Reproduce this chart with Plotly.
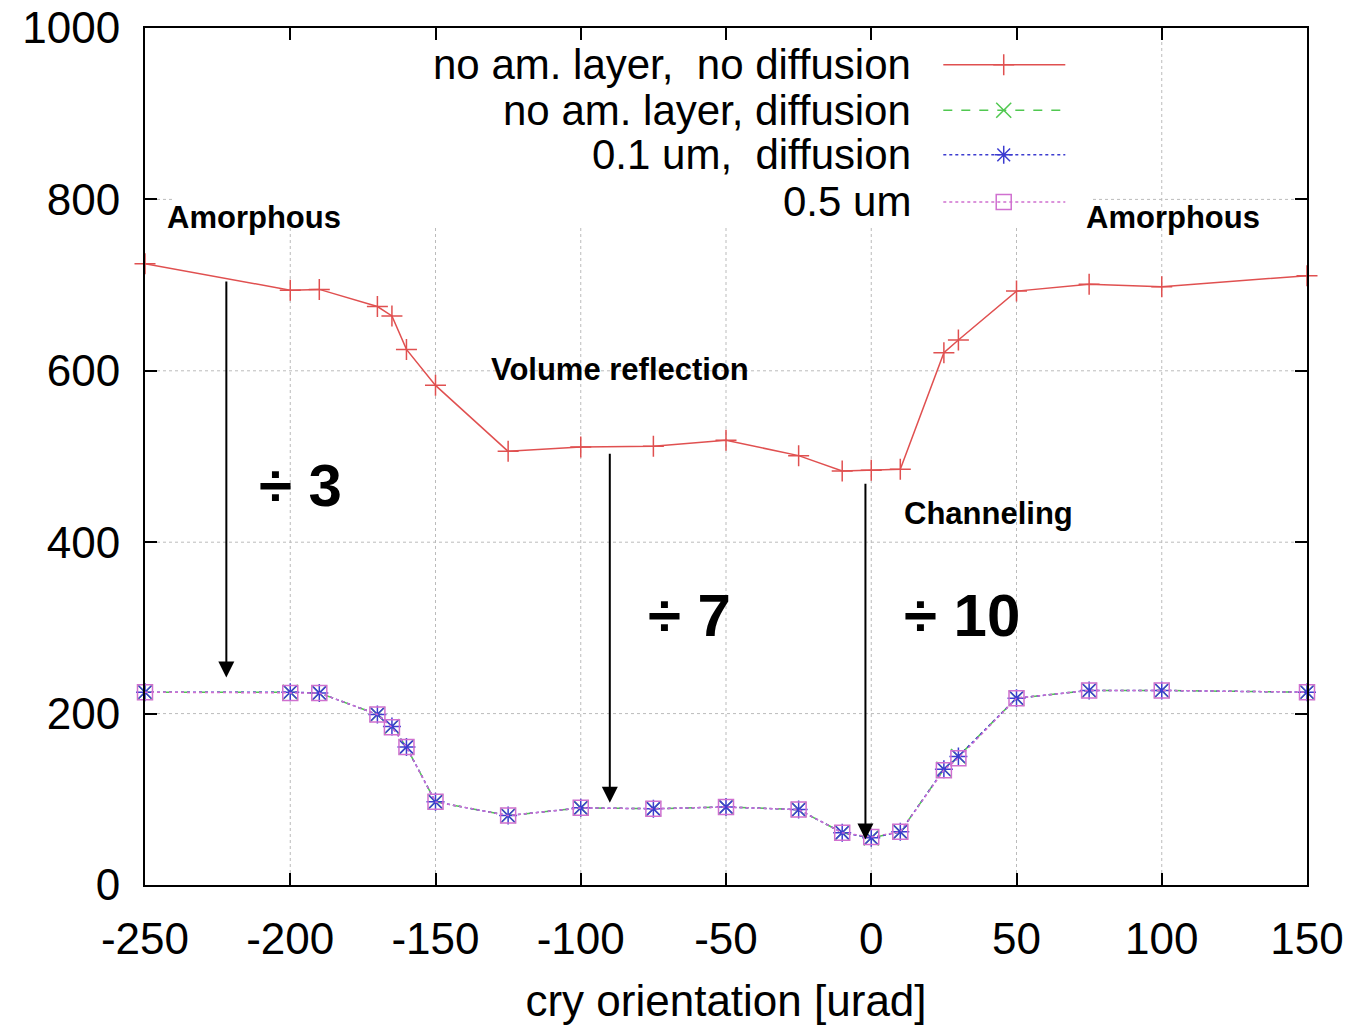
import plotly.graph_objects as go

# ---- data ----
x_vals = [-250, -200, -190, -170, -165, -160, -150, -125, -100, -75, -50, -25, -10, 0, 10, 25, 30, 50, 75, 100, 150]
y_no_layer_no_diff = [725, 694, 695, 675, 664, 625, 583, 506, 511, 512, 519, 501, 483, 484, 485, 621, 636, 693, 701, 698, 711]
y_no_layer_diff = [225, 225, 224, 199, 185, 161, 97, 81, 90, 89, 91, 88, 61, 55, 62, 135, 150, 218, 227, 227, 225]
y_01um_diff = [225, 225, 224, 199, 185, 161, 97, 81, 90, 89, 91, 88, 61, 55, 62, 135, 150, 218, 227, 227, 225]
y_05um = [225, 224, 224, 199, 184, 161, 97, 81, 90, 89, 91, 88, 61, 56, 62, 134, 148, 218, 227, 227, 225]

series_names = ["no am. layer,\u00a0\u00a0no diffusion", "no am. layer, diffusion",
                "0.1 um,\u00a0\u00a0diffusion", "0.5 um"]

x_ticks = [-250, -200, -150, -100, -50, 0, 50, 100, 150]
y_ticks = [0, 200, 400, 600, 800, 1000]

# ---- styles ----
FONT = "Liberation Sans, Arial, Helvetica, sans-serif"
colors = ["#e05050", "#50c850", "#3c3cd0", "#d070d0"]
dashes = ["solid", "dash", "dot", "dot"]
symbols = ["cross-thin-open", "x-thin-open", "asterisk-open", "square-open"]
ys = [y_no_layer_no_diff, y_no_layer_diff, y_01um_diff, y_05um]
GRID = dict(color="#bbbbbb", width=1, dash="dot")

fig = go.Figure()
for name, y, c, d, s in zip(series_names, ys, colors, dashes, symbols):
    fig.add_trace(go.Scatter(
        x=x_vals, y=y, mode="lines+markers", name=name,
        line=dict(color=c, width=1.5, dash=d),
        marker=dict(symbol=s, size=15, color=c, line=dict(color=c, width=1.5)),
        cliponaxis=False, showlegend=False))

shapes = []
# grid lines (drawn as shapes so the opaque key box can cover them)
for xv in x_ticks[1:-1]:
    shapes.append(dict(type="line", xref="x", yref="paper", x0=xv, x1=xv, y0=0, y1=1,
                       line=GRID, layer="below"))
for yv in y_ticks[1:-1]:
    shapes.append(dict(type="line", xref="paper", yref="y", x0=0, x1=1, y0=yv, y1=yv,
                       line=GRID, layer="below"))
# opaque key background
shapes.append(dict(type="rect", xref="paper", yref="paper", x0=0.0232, x1=0.815, y0=0.768, y1=0.984,
                   fillcolor="white", line=dict(width=0), layer="below"))

# ---- custom gnuplot-style legend (text left, sample right) ----
leg_rows_y = [0.957, 0.904, 0.852, 0.797]
leg_text_x = 0.661
leg_line_x = (0.687, 0.792)
leg_mark_x = 0.739

annotations = []
for name, c, d, s, ry in zip(series_names, colors, dashes, symbols, leg_rows_y):
    annotations.append(dict(xref="paper", yref="paper", x=leg_text_x, y=ry, text=name,
                            showarrow=False, xanchor="right", yanchor="middle",
                            font=dict(size=42, color="black", family=FONT)))
    shapes.append(dict(type="line", xref="paper", yref="paper", x0=leg_line_x[0], x1=leg_line_x[1],
                       y0=ry, y1=ry, line=dict(color=c, width=1.5, dash=d), layer="above"))
    fig.add_trace(go.Scatter(x=[leg_mark_x], y=[ry], mode="markers", xaxis="x2", yaxis="y2",
                             marker=dict(symbol=s, size=15, color=c, line=dict(color=c, width=1.5)),
                             showlegend=False, hoverinfo="skip", cliponaxis=False))

# ---- text labels ----
labels = [
    ("Amorphous", -212.5, 779, 31),
    ("Amorphous", 104, 779, 31),
    ("Volume reflection", -86.5, 601, 31),
    ("Channeling", 40.2, 433, 31),
    ("÷ 3", -196.6, 466, 60),
    ("÷ 7", -62.7, 314, 60),
    ("÷ 10", 31.2, 314, 60),
]
for t, lx, ly, fs in labels:
    annotations.append(dict(x=lx, y=ly, xref="x", yref="y", text="<b>%s</b>" % t, showarrow=False,
                            xanchor="center", yanchor="middle",
                            font=dict(size=fs, color="black", family=FONT)))

# ---- arrows (tail -> head) ----
arrows = [(-222, 706, 242), (-90, 505, 96), (-2, 470, 53)]
for ax_, y0, y1 in arrows:
    annotations.append(dict(x=ax_, y=y1, ax=ax_, ay=y0, xref="x", yref="y", axref="x", ayref="y",
                            text="", showarrow=True, arrowhead=2, arrowsize=1.6, arrowwidth=2,
                            arrowcolor="black", standoff=0, startstandoff=0))

axis_common = dict(showline=True, linecolor="black", linewidth=2, mirror="ticks",
                   ticks="inside", ticklen=12, tickwidth=2, tickcolor="black",
                   showgrid=False, zeroline=False, automargin=False,
                   tickfont=dict(size=44, color="black", family=FONT))

fig.update_layout(
    width=1372, height=1025,
    margin=dict(l=145, r=65, t=28, b=140),
    paper_bgcolor="white", plot_bgcolor="white",
    xaxis=dict(range=[-250, 150], tickvals=x_ticks, ticktext=[str(v) for v in x_ticks],
               ticklabelstandoff=14,
               title=dict(text="cry orientation [urad]", font=dict(size=44, color="black", family=FONT),
                          standoff=30),
               **axis_common),
    yaxis=dict(range=[0, 1000], tickvals=y_ticks, ticktext=[str(v) for v in y_ticks],
               ticklabelstandoff=14, **axis_common),
    xaxis2=dict(range=[0, 1], overlaying="x", visible=False, fixedrange=True),
    yaxis2=dict(range=[0, 1], overlaying="y", visible=False, fixedrange=True),
    shapes=shapes, annotations=annotations, showlegend=False,
)

fig.write_html("out.html")
